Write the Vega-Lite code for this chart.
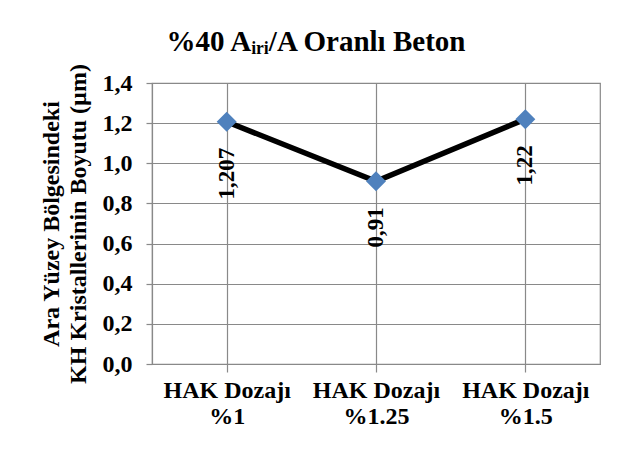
{
  "$schema": "https://vega.github.io/schema/vega-lite/v6.json",
  "autosize": {"type": "none"},
  "padding": {"left": 152, "top": 83, "right": 24, "bottom": 90},
  "width": 448,
  "height": 281,
  "background": "white",
  "title": {
    "text": "%40 Aᵢᵣᵢ/A Oranlı Beton",
    "font": "Liberation Serif",
    "fontSize": 29,
    "fontWeight": "bold",
    "color": "black",
    "anchor": "middle",
    "frame": "group",
    "dx": -60,
    "dy": 10,
    "offset": 17
  },
  "data": {
    "values": [
      {"doz": "HAK Dozajı|%1", "boyut": 1.207, "etiket": "1,207"},
      {"doz": "HAK Dozajı|%1.25", "boyut": 0.91, "etiket": "0,91"},
      {"doz": "HAK Dozajı|%1.5", "boyut": 1.22, "etiket": "1,22"}
    ]
  },
  "encoding": {
    "x": {
      "field": "doz",
      "type": "nominal",
      "sort": null,
      "scale": {"paddingInner": 0, "paddingOuter": 0},
      "axis": {
        "title": null,
        "labelAngle": 0,
        "labelExpr": "split(datum.label, '|')",
        "labelFont": "Liberation Serif",
        "labelFontSize": 24,
        "labelFontWeight": "bold",
        "labelColor": "black",
        "labelLineHeight": 26,
        "labelPadding": 6,
        "bandPosition": 0,
        "grid": true,
        "gridColor": "#898989",
        "gridWidth": 1.2,
        "domainColor": "#898989",
        "domainWidth": 1.2,
        "tickColor": "#898989",
        "tickWidth": 1.2,
        "tickSize": 8
      }
    },
    "y": {
      "field": "boyut",
      "type": "quantitative",
      "scale": {"domain": [0, 1.4], "nice": false},
      "axis": {
        "values": [0, 0.2, 0.4, 0.6, 0.8, 1.0, 1.2, 1.4],
        "labelExpr": "replace(format(datum.value, '.1f'), '.', ',')",
        "labelFont": "Liberation Serif",
        "labelFontSize": 24,
        "labelFontWeight": "bold",
        "labelColor": "black",
        "labelPadding": 14,
        "title": ["Ara Yüzey Bölgesindeki", "KH Kristallerinin Boyutu (µm)"],
        "titleFont": "Liberation Serif",
        "titleFontSize": 24,
        "titleFontWeight": "bold",
        "titleColor": "black",
        "titleLineHeight": 27,
        "titlePadding": 12,
        "grid": true,
        "gridColor": "#898989",
        "gridWidth": 1.2,
        "domainColor": "#898989",
        "domainWidth": 1.2,
        "tickColor": "#898989",
        "tickWidth": 1.2,
        "tickSize": 6
      }
    }
  },
  "layer": [
    {"mark": {"type": "line", "color": "black", "strokeWidth": 5.5}},
    {"mark": {"type": "point", "shape": "diamond", "filled": true, "size": 400, "color": "#4F81BD", "opacity": 1}},
    {
      "mark": {"type": "text", "angle": 270, "align": "right", "baseline": "middle", "dx": -26, "font": "Liberation Serif", "fontSize": 23, "fontWeight": "bold", "color": "black"},
      "encoding": {"text": {"field": "etiket"}}
    }
  ],
  "config": {
    "view": {"stroke": "#898989", "strokeWidth": 1.2}
  }
}
